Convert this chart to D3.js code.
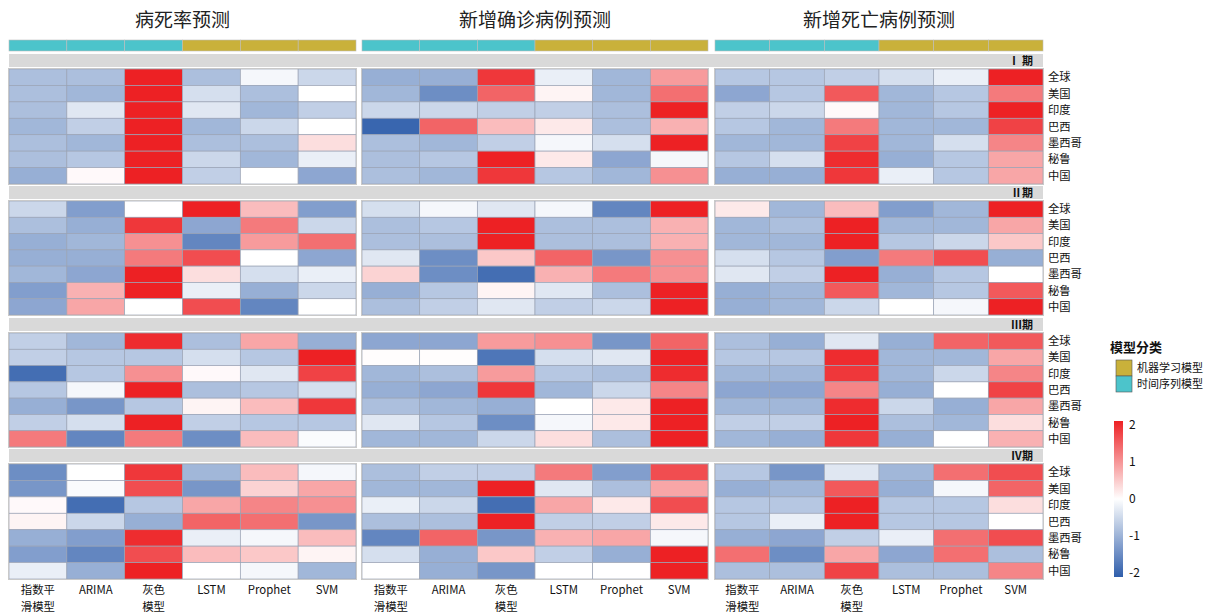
<!DOCTYPE html>
<html>
<head>
<meta charset="utf-8">
<script src="https://cdn.jsdelivr.net/npm/d3@7"></script>
<style>
  html, body { margin: 0; padding: 0; background: #fff; }
  svg { display: block; font-family: "Noto Sans CJK SC", "Noto Sans", sans-serif; }
</style>
</head>
<body>
<svg id="chart" width="1230" height="614"></svg>
<script>
// Panel titles (one per forecast target)
const metrics = ["病死率预测", "新增确诊病例预测", "新增死亡病例预测"];
// Models, grouped by model family
const models = ["指数平滑模型", "ARIMA", "灰色模型", "LSTM", "Prophet", "SVM"];
const modelLabels = [["指数平", "滑模型"], ["ARIMA"], ["灰色", "模型"], ["LSTM"], ["Prophet"], ["SVM"]];
const modelFamily = ["时间序列模型", "时间序列模型", "时间序列模型", "机器学习模型", "机器学习模型", "机器学习模型"];
const families = ["机器学习模型", "时间序列模型"];
const familyColors = ["#c9b13a", "#4cc4cb"];
const phases = ["Ⅰ 期", "Ⅱ期", "Ⅲ期", "Ⅳ期"];
const regions = ["全球", "美国", "印度", "巴西", "墨西哥", "秘鲁", "中国"];
const legendTicks = [2, 1, 0, -1, -2];

// Standardised scores, [phase][region][model]
const caseFatality = [
  [[-0.8, -0.8, 2, -0.8, -0.1, -0.5],
   [-0.8, -0.9, 2, -0.4, -0.8, 0],
   [-0.8, -0.3, 2, -0.3, -0.9, -0.6],
   [-0.9, -0.6, 2, -0.9, -0.5, 0],
   [-0.8, -0.9, 2, -0.8, -0.8, 0.3],
   [-0.8, -0.7, 2, -0.5, -0.9, -0.2],
   [-1.0, 0.05, 2, -0.6, 0, -1.1]],
  [[-0.5, -1.2, 0, 2, 0.6, -1.2],
   [-0.8, -1.0, 1.8, -1.1, 1.2, -0.5],
   [-1.0, -0.9, 1.0, -1.5, 0.9, 1.3],
   [-1.0, -1.0, 1.2, 1.6, 0, -1.1],
   [-0.9, -1.1, 2, 0.3, -0.4, -0.2],
   [-1.2, 0.7, 2, -0.2, -1.0, -0.5],
   [-1.1, 0.8, 0, 1.6, -1.5, 0]],
  [[-0.6, -0.9, 1.9, -0.8, 0.8, -1.0],
   [-0.6, -0.7, -0.7, -0.4, -0.7, 2],
   [-1.8, -0.7, 1.0, 0.05, -0.3, 1.7],
   [-0.7, -0.1, 2, -0.8, -0.7, -0.4],
   [-1.0, -1.3, -0.7, 0.1, 0.6, 1.8],
   [-0.6, -0.4, 2, -0.6, -0.7, -0.7],
   [1.2, -1.5, 1.2, -1.4, 0.6, -0.05]],
  [[-1.4, 0, 1.8, -0.9, 0.6, -0.1],
   [-1.3, -0.05, 1.6, -1.3, 0.4, 0.8],
   [0.05, -1.8, -0.7, 0.8, 1.1, 1.0],
   [0.1, -0.5, -1.0, 1.4, 1.3, -1.3],
   [-1.0, -1.2, 1.9, -0.2, -0.1, 0.6],
   [-1.2, -1.5, 1.6, 0.6, 0.5, 0.1],
   [-0.2, -1.0, 2, 0, -0.1, -0.9]]
];
const newCases = [
  [[-1.0, -1.0, 1.8, -0.2, -0.9, 0.9],
   [-0.9, -1.4, 1.4, 0.1, -0.9, 1.3],
   [-0.5, -0.5, -0.6, -0.6, -0.8, 2],
   [-1.9, 1.4, 0.6, 0.2, -0.8, 0.7],
   [-0.8, -0.9, -0.6, -0.1, -0.4, 2],
   [-0.8, -0.7, 2, 0.2, -1.1, -0.1],
   [-0.8, -0.9, 1.8, -0.7, -0.9, 1.0]],
  [[-0.4, -0.1, -0.3, -0.1, -1.5, 2],
   [-0.8, -0.7, 2, -0.8, -0.8, 0.7],
   [-0.8, -0.8, 2, -0.8, -0.8, 0.7],
   [-0.3, -1.4, 0.5, 1.4, -1.3, 1.0],
   [0.4, -1.4, -1.8, 0.7, 1.2, 1.0],
   [-1.0, -0.7, 0.1, -0.3, -0.8, 2],
   [-0.8, -0.6, -0.3, -0.6, -0.5, 2]],
  [[-1.1, -1.1, 0.9, 1.0, -1.3, 1.4],
   [0.02, 0.02, -1.7, -0.4, -0.3, 2],
   [-0.9, -0.8, 0.9, -0.7, -0.8, 1.9],
   [-1.0, -1.1, 1.8, -0.9, -0.5, 1.1],
   [-0.8, -0.9, -1.0, 0, 0.2, 2],
   [-0.3, -0.7, -1.4, -0.1, 0.2, 2],
   [-0.9, -0.9, -0.5, 0.3, -0.8, 2]],
  [[-0.8, -0.6, -0.6, 1.2, -1.2, 1.6],
   [-0.9, -0.9, 2, -0.3, -0.8, 0.8],
   [-0.2, -0.5, -1.8, 0.8, 0.2, 1.6],
   [-0.8, -0.8, 2, -0.6, -0.6, 0.2],
   [-1.5, 1.4, -1.3, 0.7, 0.8, -0.1],
   [-0.4, -1.0, 0.5, -0.6, -1.0, 2],
   [0, -1.0, -1.3, 0, 0, 2]]
];
const newDeaths = [
  [[-0.7, -0.7, -0.6, -0.4, -0.2, 2],
   [-1.1, -0.7, 1.5, -0.9, -0.7, 1.2],
   [-0.6, -0.5, 0.05, -0.9, -0.7, 2],
   [-0.7, -0.9, 1.2, -0.9, -0.9, 1.7],
   [-0.9, -0.9, 1.7, -0.9, -0.4, 1.1],
   [-0.7, -0.4, 1.9, -1.0, -0.7, 0.8],
   [-1.0, -1.0, 1.8, -0.2, -0.7, 0.8]],
  [[0.2, -0.9, 0.6, -1.2, -0.9, 2],
   [-0.9, -0.8, 2, -0.9, -0.9, 0.8],
   [-0.9, -0.9, 2, -0.7, -0.5, 0.5],
   [-0.4, -0.7, -1.2, 1.2, 1.6, -1.0],
   [-0.3, -0.6, 2, -1.0, -0.7, 0],
   [-1.0, -0.9, 1.5, -0.9, -0.7, 1.5],
   [-1.0, -0.9, -0.5, 0, -0.1, 2]],
  [[-0.8, -1.0, -0.3, -1.0, 1.4, 1.5],
   [-0.7, -0.7, 1.9, -0.9, -0.9, 0.8],
   [-0.9, -0.9, 1.8, -0.9, -0.5, 1.1],
   [-1.1, -1.1, 1.1, -1.0, 0, 1.7],
   [-0.9, -0.9, 1.9, -0.5, -1.0, 0.8],
   [-0.6, -0.6, 2, -0.8, -0.9, 0.3],
   [-0.9, -1.0, 1.8, -1.0, 0, 0.7]],
  [[-0.7, -1.3, -0.3, -0.9, 1.3, 1.6],
   [-1.0, -0.9, 1.5, -1.0, -0.1, 1.4],
   [-0.7, -0.7, 2, -0.7, -0.7, 0.3],
   [-0.7, -0.2, 2, -0.7, -0.7, 0],
   [-1.0, -1.1, -0.6, -0.2, 1.3, 1.6],
   [1.3, -1.4, 0.8, -1.1, 1.3, -0.8],
   [-0.8, -0.8, 1.7, -0.8, -0.8, 1.1]]
];
const matrices = [caseFatality, newCases, newDeaths];

// ---- layout ----
const svg = d3.select("#chart");
const colPanels = [[9, 356], [362, 708], [715, 1043]];
const rowPanels = [[69, 184], [201, 315], [333, 447], [464, 579]];
const stripH = 13, stripGap = 2;
const annotY = [40, 51];

const color = d3.scaleLinear()
  .domain([-2, 0, 2])
  .range(["#2f5eab", "#ffffff", "#ed2124"])
  .interpolate(d3.interpolateRgb)
  .clamp(true);

const familyColor = d3.scaleOrdinal().domain(families).range(familyColors);

const xScales = colPanels.map(([a, b]) => d3.scaleBand().domain(models).range([a, b]));
const yScales = rowPanels.map(([a, b]) => d3.scaleBand().domain(regions).range([a, b]));

// titles
metrics.forEach((m, ci) => {
  const [a, b] = colPanels[ci];
  svg.append("text")
    .attr("x", (a + b) / 2).attr("y", 27)
    .attr("text-anchor", "middle")
    .attr("font-size", 19)
    .attr("fill", "#222")
    .text(m);
});

// model family annotation bar
colPanels.forEach((p, ci) => {
  const x = xScales[ci];
  svg.append("g").selectAll("rect")
    .data(models)
    .join("rect")
    .attr("x", d => x(d))
    .attr("y", annotY[0])
    .attr("width", x.bandwidth())
    .attr("height", annotY[1] - annotY[0])
    .attr("fill", (d, i) => familyColor(modelFamily[i]))
    .attr("stroke", "#bdbdbd")
    .attr("stroke-width", 0.6);
});

// phase strips
rowPanels.forEach((rp, ri) => {
  const y0 = rp[0] - stripGap - stripH;
  svg.append("rect")
    .attr("x", colPanels[0][0]).attr("y", y0)
    .attr("width", colPanels[2][1] - colPanels[0][0]).attr("height", stripH)
    .attr("fill", "#d9d9d9");
  svg.append("text")
    .attr("x", colPanels[2][1] - 10).attr("y", y0 + stripH - 2.5)
    .attr("text-anchor", "end")
    .attr("font-size", 11).attr("font-weight", 700)
    .attr("font-family", "'Noto Sans CJK SC', 'DejaVu Serif', serif")
    .attr("fill", "#111")
    .text(phases[ri]);
});

// heatmap cells
matrices.forEach((mat, ci) => {
  const x = xScales[ci];
  mat.forEach((phase, ri) => {
    const y = yScales[ri];
    const g = svg.append("g");
    phase.forEach((row, k) => {
      g.selectAll(null)
        .data(row)
        .join("rect")
        .attr("x", (d, j) => x(models[j]))
        .attr("y", y(regions[k]))
        .attr("width", x.bandwidth())
        .attr("height", y.bandwidth())
        .attr("fill", d => color(d))
        .attr("stroke", "#9aa3b5")
        .attr("stroke-width", 0.7);
    });
    g.append("rect")
      .attr("x", colPanels[ci][0] - 0.5).attr("y", rowPanels[ri][0] - 0.5)
      .attr("width", colPanels[ci][1] - colPanels[ci][0] + 1)
      .attr("height", rowPanels[ri][1] - rowPanels[ri][0] + 1)
      .attr("fill", "none").attr("stroke", "#c9c9c9").attr("stroke-width", 1);
  });
});

// region labels on the right
rowPanels.forEach((rp, ri) => {
  const y = yScales[ri];
  svg.append("g").selectAll("text")
    .data(regions)
    .join("text")
    .attr("x", colPanels[2][1] + 5)
    .attr("y", d => y(d) + y.bandwidth() / 2)
    .attr("dy", "0.36em")
    .attr("font-size", 11.3)
    .attr("fill", "#111")
    .text(d => d);
});

// model labels at the bottom (one text element per line)
colPanels.forEach((p, ci) => {
  const x = xScales[ci];
  const g = svg.append("g");
  models.forEach((m, j) => {
    modelLabels[j].forEach((line, li) => {
      g.append("text")
        .attr("x", x(m) + x.bandwidth() / 2)
        .attr("y", 594 + li * 16.6)
        .attr("text-anchor", "middle")
        .attr("font-size", 11.4)
        .attr("fill", "#111")
        .text(line);
    });
  });
});

// legend: model family
const lg = svg.append("g");
lg.append("text").attr("x", 1110).attr("y", 352)
  .attr("font-size", 13).attr("font-weight", 700).attr("fill", "#111").text("模型分类");
families.forEach((f, i) => {
  lg.append("rect").attr("x", 1116).attr("y", 360 + i * 16)
    .attr("width", 16).attr("height", 16)
    .attr("fill", familyColor(f)).attr("stroke", "#555").attr("stroke-width", 0.6);
  lg.append("text").attr("x", 1137).attr("y", 368 + i * 16).attr("dy", "0.36em")
    .attr("font-size", 11).attr("fill", "#111").text(f);
});

// legend: colour bar
const barY = d3.scaleLinear().domain([2, -2]).range([425, 573]);
const defs = svg.append("defs");
const grad = defs.append("linearGradient").attr("id", "cbar")
  .attr("x1", 0).attr("y1", 0).attr("x2", 0).attr("y2", 1);
d3.range(0, 1.0001, 0.1).forEach(t => {
  grad.append("stop").attr("offset", t).attr("stop-color", color(2 - 4 * t));
});
svg.append("rect").attr("x", 1114).attr("y", barY(2) - 4)
  .attr("width", 9).attr("height", barY(-2) - barY(2) + 8)
  .attr("fill", "url(#cbar)");
const cAxis = d3.axisRight(barY).tickValues(legendTicks).tickSize(0).tickPadding(6)
  .tickFormat(d => d < 0 ? "-" + Math.abs(d) : d);
const ax = svg.append("g").attr("transform", "translate(1123,0)").call(cAxis);
ax.select(".domain").remove();
ax.selectAll("text").attr("font-size", 12).attr("fill", "#111")
  .attr("font-family", "'Noto Sans CJK SC', sans-serif");
</script>
</body>
</html>
